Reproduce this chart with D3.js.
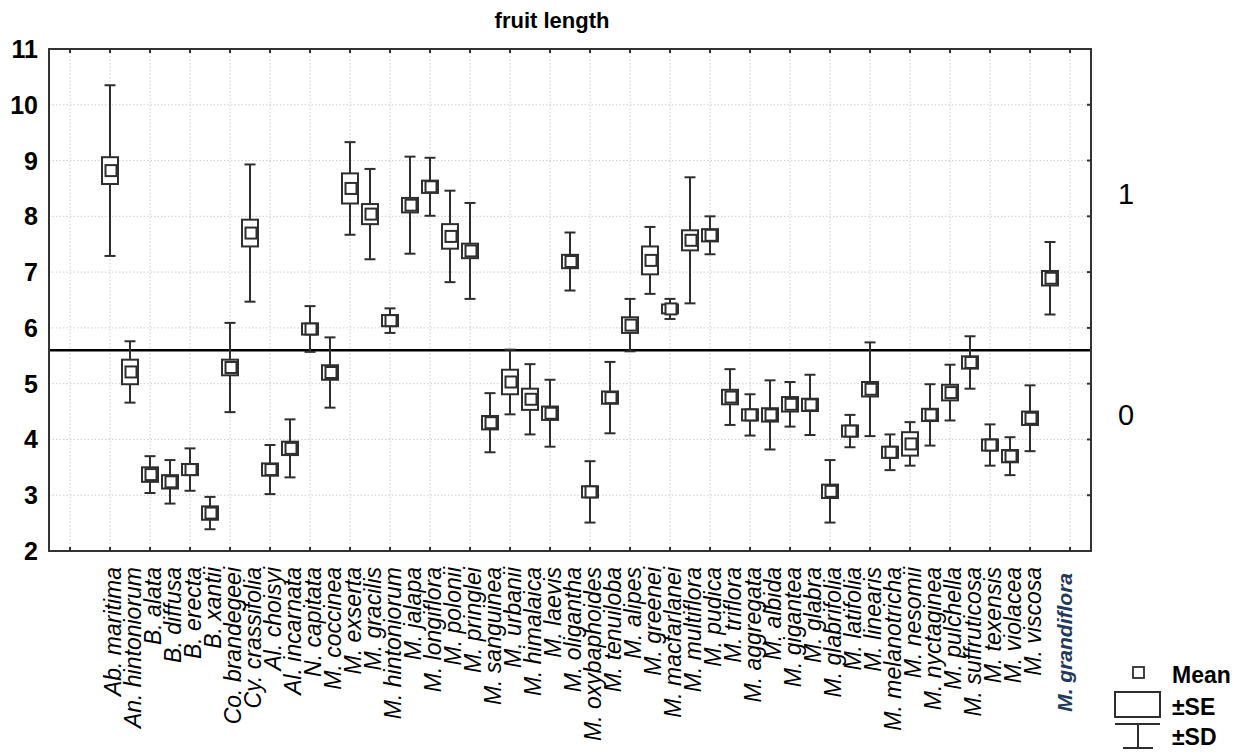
<!DOCTYPE html>
<html>
<head>
<meta charset="utf-8">
<script src="https://cdn.jsdelivr.net/npm/d3@7"></script>
<style>
  body { margin: 0; background: #fff; }
  svg { display: block; font-family: "Liberation Sans", Arial, sans-serif; }
</style>
</head>
<body>
<svg id="chart"></svg>
<script>
// species along the x axis
const species = [
  "Ab. maritima", "An. hintoniorum", "B. alata", "B. diffusa", "B. erecta", "B. xantii",
  "Co. brandegeei", "Cy. crassifolia", "Al. choisyi", "Al. incarnata", "N. capitata",
  "M. coccinea", "M. exserta", "M. gracilis", "M. hintoniorum", "M. jalapa", "M. longiflora",
  "M. polonii", "M. pringlei", "M. sanguinea", "M. urbanii", "M. himalaica", "M. laevis",
  "M. oligantha", "M. oxybaphoides", "M. tenuiloba", "M. alipes", "M. greenei",
  "M. macfarlanei", "M. multiflora", "M. pudica", "M. triflora", "M. aggregata", "M. albida",
  "M. gigantea", "M. glabra", "M. glabrifolia", "M. latifolia", "M. linearis",
  "M. melanotricha", "M. nesomii", "M. nyctaginea", "M. pulchella", "M. suffruticosa",
  "M. texensis", "M. violacea", "M. viscosa", "M. grandiflora"
];
const means = [
  8.82, 5.21, 3.37, 3.24, 3.46, 2.68, 5.29, 7.70, 3.46, 3.84, 5.98, 5.20, 8.50, 8.04, 6.13, 8.20,
  8.53, 7.64, 7.38, 4.30, 5.03, 4.72, 4.47, 7.19, 3.06, 4.75, 6.05, 7.21, 6.34, 7.57, 7.66, 4.76,
  4.44, 4.44, 4.63, 4.62, 3.07, 4.15, 4.90, 3.77, 3.92, 4.44, 4.84, 5.38, 3.90, 3.70, 4.38, 6.89
];
const se = [
  0.24, 0.22, 0.13, 0.12, 0.10, 0.12, 0.14, 0.24, 0.11, 0.12, 0.10, 0.13, 0.27, 0.18, 0.10, 0.13,
  0.11, 0.22, 0.13, 0.12, 0.22, 0.19, 0.12, 0.12, 0.10, 0.11, 0.14, 0.25, 0.08, 0.18, 0.11, 0.13,
  0.10, 0.12, 0.13, 0.11, 0.12, 0.10, 0.13, 0.10, 0.21, 0.11, 0.14, 0.11, 0.10, 0.11, 0.12, 0.13
];
const sd = [
  1.53, 0.55, 0.33, 0.39, 0.38, 0.29, 0.80, 1.23, 0.44, 0.52, 0.41, 0.63, 0.83, 0.81, 0.22, 0.87,
  0.52, 0.82, 0.86, 0.53, 0.58, 0.63, 0.60, 0.52, 0.55, 0.64, 0.47, 0.60, 0.18, 1.13, 0.34, 0.50,
  0.37, 0.62, 0.40, 0.54, 0.56, 0.29, 0.84, 0.32, 0.39, 0.55, 0.50, 0.47, 0.37, 0.34, 0.59, 0.65
];
const yTicks = [2, 3, 4, 5, 6, 7, 8, 9, 10, 11];
const cutoff = 5.6;
const groupLabels = ["1", "0"];
const groupLevels = [8.4, 4.45];
const highlighted = "M. grandiflora";
const legendItems = ["Mean", "\u00b1SE", "\u00b1SD"];

const width = 1252, height = 752;
const plotLeft = 49, plotRight = 1091, plotTop = 49, plotBottom = 551;
const ink = "#2e2e2e";

const svg = d3.select("#chart").attr("width", width).attr("height", height);

const x = d3.scaleLinear().domain([-2.05, 50.05]).range([plotLeft, plotRight]);
const y = d3.scaleLinear().domain([2, 11]).range([plotBottom, plotTop]);
const xTicks = d3.range(-1, 50, 2);

// title
svg.append("text")
  .attr("x", 552).attr("y", 28)
  .attr("text-anchor", "middle")
  .attr("font-size", 22).attr("font-weight", "bold")
  .text("fruit length");

// grid
const grid = svg.append("g").attr("stroke", "#cfcfcf").attr("stroke-width", 1).attr("stroke-dasharray", "1.5,2");
grid.selectAll(".gx").data(xTicks).enter().append("line")
  .attr("x1", d => x(d)).attr("x2", d => x(d))
  .attr("y1", plotTop).attr("y2", plotBottom);
grid.selectAll(".gy").data(yTicks.slice(1, -1)).enter().append("line")
  .attr("x1", plotLeft).attr("x2", plotRight)
  .attr("y1", d => y(d)).attr("y2", d => y(d));

// cutoff line
svg.append("line")
  .attr("x1", plotLeft).attr("x2", plotRight)
  .attr("y1", y(cutoff)).attr("y2", y(cutoff))
  .attr("stroke", "#000").attr("stroke-width", 2.5);

// box-whisker marks
const rows = species.map((s, i) => ({ name: s, pos: i + 1, m: means[i], se: se[i], sd: sd[i] }));
const g = svg.append("g").attr("stroke", ink).attr("stroke-width", 2).attr("fill", "none");
const items = g.selectAll(".item").data(rows).enter().append("g");

items.append("line")
  .attr("x1", d => x(d.pos)).attr("x2", d => x(d.pos))
  .attr("y1", d => y(d.m + d.sd)).attr("y2", d => y(d.m - d.sd));
items.append("line")
  .attr("x1", d => x(d.pos) - 5.5).attr("x2", d => x(d.pos) + 5.5)
  .attr("y1", d => y(d.m + d.sd)).attr("y2", d => y(d.m + d.sd));
items.append("line")
  .attr("x1", d => x(d.pos) - 5.5).attr("x2", d => x(d.pos) + 5.5)
  .attr("y1", d => y(d.m - d.sd)).attr("y2", d => y(d.m - d.sd));
items.append("rect")
  .attr("x", d => x(d.pos) - 8).attr("width", 16)
  .attr("y", d => y(d.m + d.se))
  .attr("height", d => y(d.m - d.se) - y(d.m + d.se))
  .attr("fill", "#fff");
items.append("rect")
  .attr("x", d => x(d.pos) - 4.5).attr("width", 11)
  .attr("y", d => y(d.m) - 5.5).attr("height", 11)
  .attr("fill", "#fff");

// frame
svg.append("rect")
  .attr("x", plotLeft).attr("y", plotTop)
  .attr("width", plotRight - plotLeft).attr("height", plotBottom - plotTop)
  .attr("fill", "none").attr("stroke", "#333").attr("stroke-width", 2);

// ticks (inward)
const tk = svg.append("g").attr("stroke", "#333").attr("stroke-width", 2);
tk.selectAll(".tt").data(xTicks).enter().append("line")
  .attr("x1", d => x(d)).attr("x2", d => x(d)).attr("y1", plotTop).attr("y2", plotTop + 4);
tk.selectAll(".tb").data(xTicks).enter().append("line")
  .attr("x1", d => x(d)).attr("x2", d => x(d)).attr("y1", plotBottom).attr("y2", plotBottom - 4);
tk.selectAll(".tr").data(yTicks).enter().append("line")
  .attr("x1", plotRight).attr("x2", plotRight - 4).attr("y1", d => y(d)).attr("y2", d => y(d));

// y labels
svg.append("g").selectAll("text").data(yTicks).enter().append("text")
  .attr("x", 38).attr("y", d => y(d)).attr("dy", "0.36em")
  .attr("text-anchor", "end")
  .attr("font-size", 25).attr("font-weight", "bold")
  .text(d => d);

// group labels on the right
svg.append("g").selectAll("text").data(groupLabels).enter().append("text")
  .attr("x", 1126).attr("y", (d, i) => y(groupLevels[i])).attr("dy", "0.36em")
  .attr("text-anchor", "middle")
  .attr("font-size", 29)
  .text(d => d);

// x labels
svg.append("g").selectAll("text").data(rows).enter().append("text")
  .attr("transform", d => d.name === highlighted
    ? `translate(${x(d.pos) + 22},573) rotate(-90)`
    : `translate(${x(d.pos) + 11},567) rotate(-90)`)
  .attr("text-anchor", "end")
  .attr("font-style", "italic")
  .attr("font-size", d => d.name === highlighted ? 21 : 23)
  .attr("font-weight", d => d.name === highlighted ? "bold" : "normal")
  .attr("fill", d => d.name === highlighted ? "#1f3a5c" : "#000")
  .text(d => d.name);

// legend
const lg = svg.append("g").attr("stroke", ink).attr("stroke-width", 2).attr("fill", "none");
lg.append("rect").attr("x", 1133).attr("y", 667).attr("width", 11).attr("height", 11).attr("stroke-width", 1.8);
lg.append("rect").attr("x", 1115).attr("y", 692).attr("width", 45).attr("height", 25);
lg.append("line").attr("x1", 1115).attr("x2", 1160).attr("y1", 724).attr("y2", 724);
lg.append("line").attr("x1", 1138).attr("x2", 1138).attr("y1", 724).attr("y2", 748);
lg.append("line").attr("x1", 1123).attr("x2", 1153).attr("y1", 748).attr("y2", 748);
svg.append("g").selectAll("text").data(legendItems).enter().append("text")
  .attr("x", 1172).attr("y", (d, i) => [683, 715, 745][i])
  .attr("font-size", 23).attr("font-weight", "bold")
  .text(d => d);
</script>
</body>
</html>
